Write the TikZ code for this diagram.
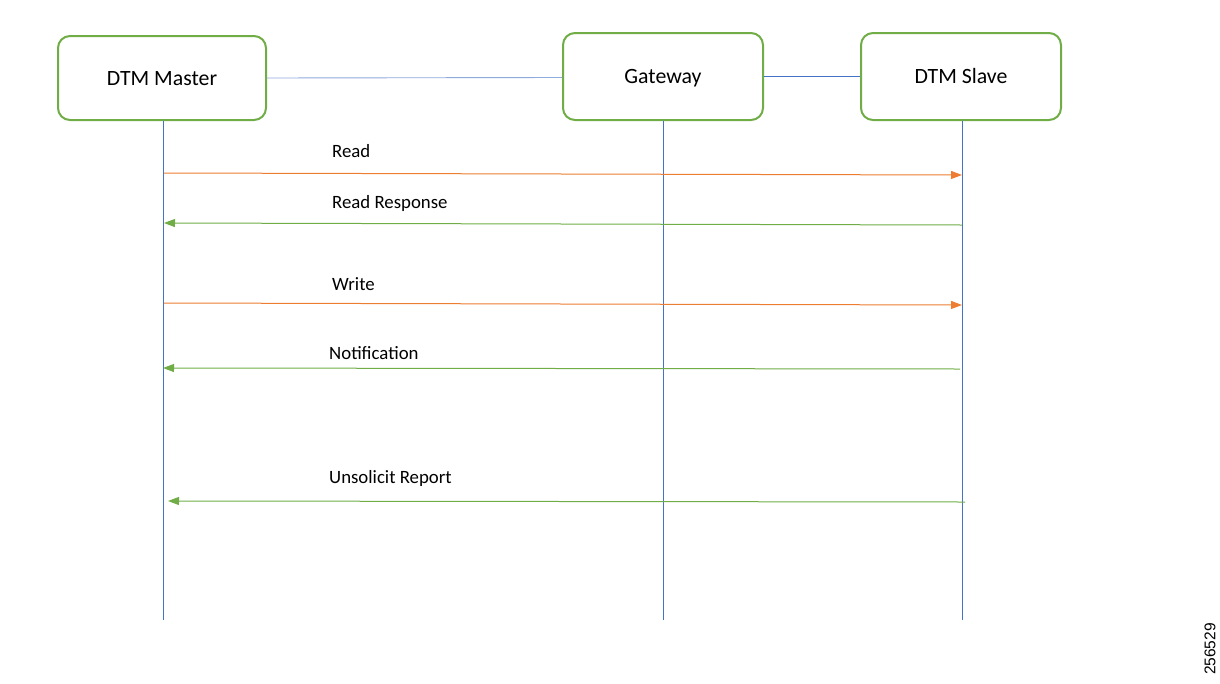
\documentclass[tikz,border=0pt]{standalone}
\usepackage{fontspec}
\setmainfont{Carlito}
\newfontfamily\numfont{Liberation Sans}
\usetikzlibrary{arrows.meta}
\definecolor{boxgreen}{HTML}{70AD47}
\definecolor{lifeblue}{HTML}{4472C4}
\definecolor{lightblue}{HTML}{8FAADC}
\definecolor{msgorange}{HTML}{ED7D31}
\definecolor{msggreen}{HTML}{70AD47}
\tikzset{
  actor/.style={draw=boxgreen, line width=2pt, rounded corners=12pt, fill=white,
    inner sep=0pt, text height=14pt, text depth=0pt, font=\fontsize{21.8}{26}\selectfont},
  lifeline/.style={draw=lifeblue, line width=0.9pt},
  req/.style={draw=msgorange, line width=1pt, -{Triangle[length=11pt,width=8pt]}},
  resp/.style={draw=msggreen, line width=1pt, -{Triangle[length=11pt,width=8pt]}},
  lbl/.style={anchor=west, inner sep=0pt, font=\fontsize{18.8}{22}\selectfont}
}
\begin{document}
\begin{tikzpicture}[x=1pt,y=-1pt]
\useasboundingbox (0,0) rectangle (1220,683);
% actors
\node[actor, minimum width=208pt, minimum height=84pt] (master) at (162,78) {DTM Master};
\node[actor, minimum width=200pt, minimum height=87pt] (gateway) at (663,76.5) {Gateway};
\node[actor, minimum width=200pt, minimum height=87pt] (slave) at (961,76.5) {DTM Slave};
% links between actors
\draw[draw=lightblue, line width=0.9pt] (master.east) -- (gateway.west |- 0,77.5);
\draw[draw=lifeblue, line width=0.9pt] (gateway.east) -- (slave.west);
% lifeline ends
\coordinate (mEnd) at (163,620);
\coordinate (gEnd) at (663,620);
\coordinate (sEnd) at (962,620);
\draw[lifeline] (master.south -| mEnd) -- (mEnd);
\draw[lifeline] (gateway.south) -- (gEnd);
\draw[lifeline] (slave.south -| sEnd) -- (sEnd);
% message end points
\coordinate (m1) at (164,173); \coordinate (s1) at (962,175);
\coordinate (s2) at (962,225); \coordinate (m2) at (164,223);
\coordinate (m3) at (164,303); \coordinate (s3) at (962,305);
\coordinate (s4) at (960,369); \coordinate (m4) at (163,368);
\coordinate (s5) at (965,502); \coordinate (m5) at (168,501);
% messages
\draw[req] (m1) -- (s1);
\draw[resp] (s2) -- (m2);
\draw[req] (m3) -- (s3);
\draw[resp] (s4) -- (m4);
\draw[resp] (s5) -- (m5);
% labels
\node[lbl] (l1) at (332,151) {Read};
\node[lbl] (l2) at (332,203) {Read Response};
\node[lbl] (l3) at (332,284) {Write};
\node[lbl] (l4) at (329,353) {Notification};
\node[lbl] (l5) at (329,478) {Unsolicit Report};
% figure number
\node[rotate=90, inner sep=0pt, font=\numfont\fontsize{15.5}{18}\selectfont] (num) at (1210,649) {256529};
\end{tikzpicture}
\end{document}
